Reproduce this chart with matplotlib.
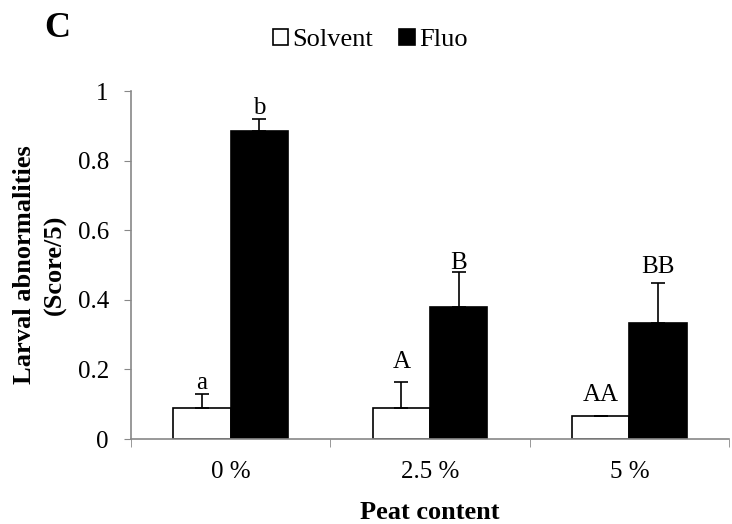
import numpy as np
from matplotlib import pyplot as plt

plt.rcParams['font.family'] = ['Liberation Serif', 'DejaVu Serif']

groups = ["0 %", "2.5 %", "5 %"]
solvent = [0.088, 0.088, 0.066]
solvent_err = [0.040, 0.077, 0.0]
fluo = [0.884, 0.378, 0.334]
fluo_err = [0.035, 0.103, 0.115]
solvent_letters = ["a", "A", "AA"]
fluo_letters = ["b", "B", "BB"]
# y where each letter sits (bottom of text)
solvent_letter_y = [0.145, 0.205, 0.108]
fluo_letter_y = [0.935, 0.488, 0.478]

fig = plt.figure(figsize=(7.32, 5.24), dpi=100)
ax = fig.add_axes([0.1790, 0.1622, 0.8169, 0.6641])

x = np.arange(len(groups))
w = 0.287

ax.bar(x - w/2, solvent, w, color="white", edgecolor="black", linewidth=1.2,
       yerr=[np.zeros(3), solvent_err], capsize=5,
       error_kw=dict(ecolor="black", elinewidth=1.2, capthick=1.2), label="Solvent")
ax.bar(x + w/2, fluo, w, color="black", edgecolor="black", linewidth=1.2,
       yerr=[np.zeros(3), fluo_err], capsize=5,
       error_kw=dict(ecolor="black", elinewidth=1.2, capthick=1.2), label="Fluo")

for i in range(3):
    ax.text(x[i] - w/2, solvent_letter_y[i], solvent_letters[i],
            ha="center", va="baseline", fontsize=18)
    ax.text(x[i] + w/2, fluo_letter_y[i], fluo_letters[i],
            ha="center", va="baseline", fontsize=18)

ax.set_xlim(-0.5, 2.5)
ax.set_ylim(0, 1)
ax.set_yticks([0, 0.2, 0.4, 0.6, 0.8, 1])
ax.set_yticklabels(["0", "0.2", "0.4", "0.6", "0.8", "1"])
ax.set_xticks(x)
ax.set_xticklabels(groups)
ax.set_xticks([-0.5, 0.5, 1.5, 2.5], minor=True)
ax.tick_params(axis="x", which="major", length=0, pad=16, labelsize=18)
ax.tick_params(axis="x", which="minor", length=6, color="#888888", direction="out")
ax.tick_params(axis="y", length=5, color="#888888", labelsize=18, pad=11)

for s in ["top", "right"]:
    ax.spines[s].set_visible(False)
for s in ["left", "bottom"]:
    ax.spines[s].set_color("#888888")
    ax.spines[s].set_linewidth(1.2)

ax.set_xlabel("Peat content", fontsize=19, fontweight="bold", labelpad=13)
ax.set_ylabel("Larval abnormalities\n(Score/5)", fontsize=19, fontweight="bold",
              labelpad=8, linespacing=1.4)

ax.legend(loc="center", bbox_to_anchor=(0.40, 1.147), ncol=2, frameon=False,
          fontsize=19, handlelength=0.6, handleheight=0.6, handletextpad=0.15,
          columnspacing=1.0, borderaxespad=0)

fig.text(0.061, 0.945, "C", fontsize=26, fontweight="bold", va="center")

plt.savefig("out.png", dpi=100)
